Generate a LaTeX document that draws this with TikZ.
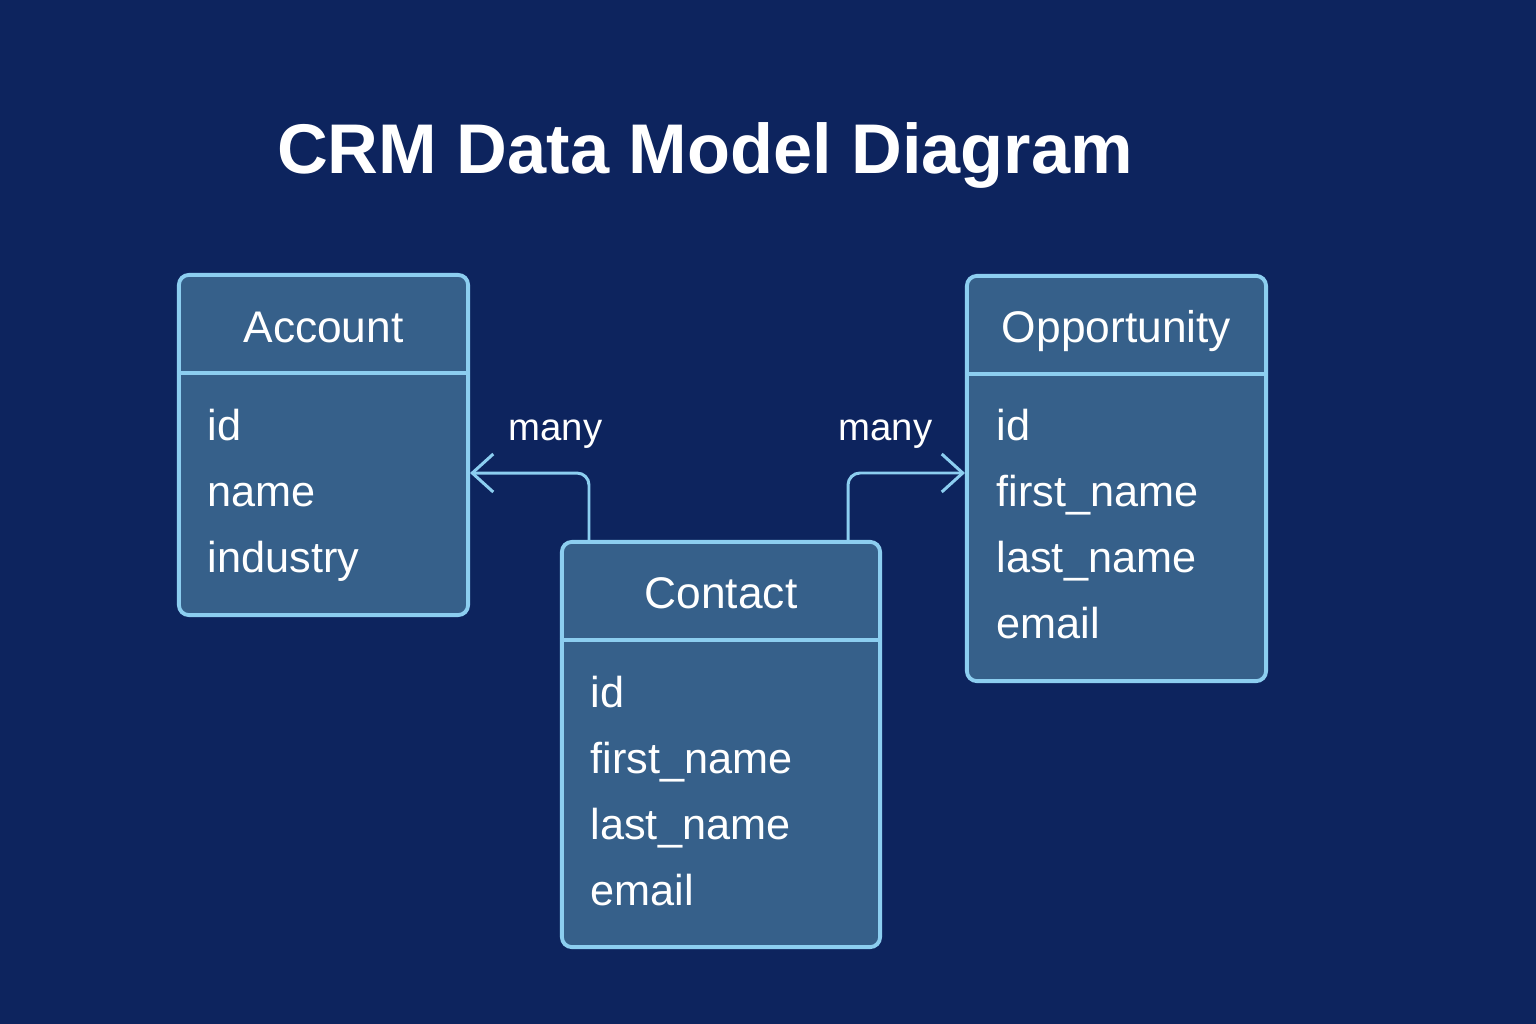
\documentclass[tikz,border=0pt]{standalone}
\usepackage{fontspec}
\setmainfont{Liberation Sans}
\usetikzlibrary{arrows.meta, positioning}
\definecolor{crmnavy}{RGB}{13,36,94}
\definecolor{crmbox}{RGB}{54,96,138}
\definecolor{crmedge}{RGB}{140,206,240}

\begin{document}
\begin{tikzpicture}[x=0.01cm, y=-0.01cm,
  entity/.style={rectangle, draw=crmedge, fill=crmbox, line width=1.1pt, rounded corners=0.1cm, inner sep=0pt},
  head/.style={font=\fontsize{12.6}{14}\selectfont, text=white, inner sep=0pt, anchor=base},
  field/.style={font=\fontsize{12.3}{14}\selectfont, text=white, inner sep=0pt, anchor=base west},
  card/.style={font=\fontsize{10.9}{13}\selectfont, text=white, inner sep=0pt, anchor=base west},
  rule/.style={draw=crmedge, line width=1.1pt},
  link/.style={draw=crmedge, line width=0.85pt, rounded corners=0.12cm, -{Straight Barb[length=0.21cm, width=0.38cm, line width=0.85pt]}}
]
\useasboundingbox (0,0) rectangle (1536,1024);
\fill[crmnavy] (0,0) rectangle (1536,1024);

\node[font=\bfseries\fontsize{20}{24}\selectfont, text=white, inner sep=0pt, anchor=base] (title) at (705,173) {CRM Data Model Diagram};

% tables
\node[entity, minimum width=2.89cm, minimum height=3.40cm] (account) at (323.5,445) {};
\node[entity, minimum width=3.18cm, minimum height=4.05cm] (contact) at (721,744.5) {};
\node[entity, minimum width=2.99cm, minimum height=4.05cm] (opportunity) at (1116.5,478.5) {};

\foreach \t/\n in {account/Account, contact/Contact, opportunity/Opportunity} {
  \draw[rule] ([yshift=-1cm]\t.north west) -- ([yshift=-1cm]\t.north east);
  \node[head] (\t-head) at ([yshift=-0.69cm]\t.north) {\n};
}

\foreach \f [count=\i, evaluate=\i as \dy using -1.67-(\i-1)*0.66] in {id, name, industry}
  \node[field] (account-\i) at ([xshift=0.3cm, yshift=\dy cm]account.north west) {\f};
\foreach \f [count=\i, evaluate=\i as \dy using -1.67-(\i-1)*0.66] in {id, first\_name, last\_name, email}
  \node[field] (contact-\i) at ([xshift=0.3cm, yshift=\dy cm]contact.north west) {\f};
\foreach \f [count=\i, evaluate=\i as \dy using -1.66-(\i-1)*0.66] in {id, first\_name, last\_name, email}
  \node[field] (opportunity-\i) at ([xshift=0.31cm, yshift=\dy cm]opportunity.north west) {\f};

% relations
\draw[link] ([xshift=0.29cm]contact.north west) |- ([yshift=-0.28cm]account.east);
\draw[link] ([xshift=-0.34cm]contact.north east) |- ([yshift=0.055cm]opportunity.west);
\node[card] (many-left) at (508,440) {many};
\node[card] (many-right) at (838,440) {many};

\end{tikzpicture}
\end{document}
